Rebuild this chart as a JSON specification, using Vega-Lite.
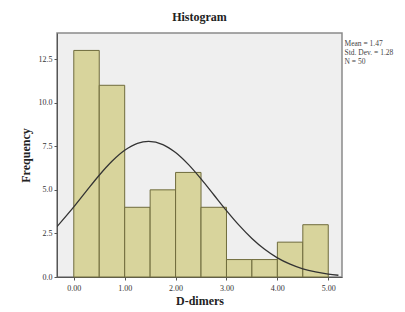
{
  "$schema": "https://vega.github.io/schema/vega-lite/v6.json",
  "autosize": "none",
  "width": 285,
  "height": 244,
  "padding": {"left": 57, "top": 33, "right": 63, "bottom": 35},
  "background": "white",
  "title": {"text": "Histogram", "font": "Liberation Serif", "fontSize": 12, "fontWeight": "bold", "color": "#222222", "offset": 9},
  "config": {
    "view": {"fill": "#efefef", "stroke": "#8a8a8a", "strokeWidth": 1.5},
    "axis": {"grid": false, "labelFont": "Liberation Serif", "titleFont": "Liberation Serif", "labelFontSize": 8, "labelColor": "#333333", "titleFontSize": 12, "titleColor": "#222222", "domainColor": "#555555", "tickColor": "#555555", "tickSize": 3}
  },
  "datasets": {
    "bins": [
      {"start": 0.0, "end": 0.5, "count": 13},
      {"start": 0.5, "end": 1.0, "count": 11},
      {"start": 1.0, "end": 1.5, "count": 4},
      {"start": 1.5, "end": 2.0, "count": 5},
      {"start": 2.0, "end": 2.5, "count": 6},
      {"start": 2.5, "end": 3.0, "count": 4},
      {"start": 3.0, "end": 3.5, "count": 1},
      {"start": 3.5, "end": 4.0, "count": 1},
      {"start": 4.0, "end": 4.5, "count": 2},
      {"start": 4.5, "end": 5.0, "count": 3}
    ],
    "curve": [
      {"x": -0.33, "y": 2.89}, {"x": 0.0, "y": 4.02}, {"x": 0.25, "y": 4.94}, {"x": 0.5, "y": 5.84},
      {"x": 0.75, "y": 6.64}, {"x": 1.0, "y": 7.27}, {"x": 1.25, "y": 7.67}, {"x": 1.47, "y": 7.78},
      {"x": 1.75, "y": 7.6}, {"x": 2.0, "y": 7.14}, {"x": 2.25, "y": 6.46}, {"x": 2.5, "y": 5.63},
      {"x": 2.75, "y": 4.72}, {"x": 3.0, "y": 3.81}, {"x": 3.25, "y": 2.96}, {"x": 3.5, "y": 2.21},
      {"x": 3.75, "y": 1.59}, {"x": 4.0, "y": 1.1}, {"x": 4.25, "y": 0.74}, {"x": 4.5, "y": 0.47},
      {"x": 4.75, "y": 0.29}, {"x": 5.0, "y": 0.17}, {"x": 5.2, "y": 0.1}
    ],
    "stats": [
      {"label": "Mean = 1.47", "x": 5.32, "y": 13.35},
      {"label": "Std. Dev. = 1.28", "x": 5.32, "y": 12.85},
      {"label": "N = 50", "x": 5.32, "y": 12.35}
    ]
  },
  "layer": [
    {
      "data": {"name": "bins"},
      "mark": {"type": "rect", "fill": "#d8d49c", "stroke": "#6f6b3c", "strokeWidth": 1},
      "encoding": {
        "x": {"field": "start", "type": "quantitative", "scale": {"domain": [-0.33, 5.27], "nice": false, "zero": false},
              "axis": {"values": [0, 1, 2, 3, 4, 5], "format": ".2f", "title": "D-dimers", "labelPadding": 4, "titlePadding": 3}},
        "x2": {"field": "end"},
        "y": {"field": "count", "type": "quantitative", "scale": {"domain": [0, 14], "nice": false},
              "axis": {"values": [0, 2.5, 5, 7.5, 10, 12.5], "format": ".1f", "title": "Frequency", "titlePadding": 6}},
        "y2": {"datum": 0}
      }
    },
    {
      "data": {"name": "curve"},
      "mark": {"type": "line", "color": "#333333", "strokeWidth": 1.3, "interpolate": "monotone", "clip": true},
      "encoding": {
        "x": {"field": "x", "type": "quantitative"},
        "y": {"field": "y", "type": "quantitative"}
      }
    },
    {
      "data": {"name": "stats"},
      "mark": {"type": "text", "align": "left", "baseline": "middle", "font": "Liberation Serif", "fontSize": 7.5, "color": "#444444"},
      "encoding": {
        "x": {"field": "x", "type": "quantitative"},
        "y": {"field": "y", "type": "quantitative"},
        "text": {"field": "label", "type": "nominal"}
      }
    }
  ]
}
